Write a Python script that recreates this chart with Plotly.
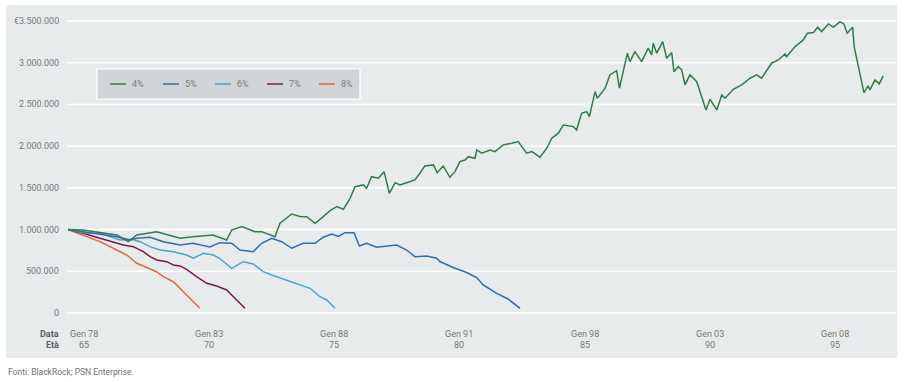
import plotly.graph_objects as go

# ---------------- data (age in years, value in euro thousands) ----------------
age_4 = [64.36, 64.97, 66.31, 66.77, 67.11, 67.90, 68.84, 69.35, 70.15, 70.70, 70.90, 71.30, 71.83, 72.10,
         72.63, 72.83, 73.30, 73.63, 73.90, 74.23, 74.56, 74.83, 75.10, 75.36, 75.63, 75.83, 76.16, 76.29,
         76.49, 76.76, 76.99, 77.20, 77.43, 77.62, 77.89, 78.22, 78.42, 78.62, 78.96, 79.11, 79.35, 79.62,
         79.82, 80.02, 80.22, 80.35, 80.62, 80.69, 80.89, 81.22, 81.42, 81.75, 82.09, 82.35, 82.49, 82.69,
         82.89, 83.22, 83.49, 83.69, 83.95, 84.15, 84.55, 84.68, 84.88, 85.08, 85.19, 85.42, 85.51, 85.82,
         86.01, 86.28, 86.39, 86.71, 86.81, 87.01, 87.28, 87.54, 87.68, 87.74, 87.88, 88.12, 88.28, 88.48,
         88.57, 88.74, 88.88, 89.01, 89.21, 89.48, 89.72, 89.85, 90.01, 90.28, 90.48, 90.61, 90.94, 91.28,
         91.61, 91.88, 92.07, 92.47, 92.74, 93.01, 93.07, 93.41, 93.58, 93.74, 93.90, 94.14, 94.31, 94.47,
         94.74, 94.94, 95.20, 95.36, 95.49, 95.71, 95.77, 95.93, 96.16, 96.33, 96.40, 96.60, 96.77, 96.93]
val_4 = [1000, 995, 935, 855, 935, 975, 896, 915, 935, 875, 995, 1035, 975, 975,
         915, 1076, 1187, 1158, 1155, 1076, 1155, 1227, 1275, 1243, 1375, 1514, 1535, 1495,
         1634, 1615, 1694, 1435, 1562, 1535, 1562, 1595, 1675, 1763, 1775, 1682, 1763, 1627,
         1694, 1814, 1834, 1874, 1855, 1954, 1915, 1954, 1934, 2014, 2035, 2054, 1994, 1915,
         1934, 1867, 1975, 2095, 2155, 2254, 2234, 2194, 2394, 2414, 2354, 2653, 2574, 2694,
         2854, 2905, 2694, 3114, 3013, 3133, 3013, 3174, 3093, 3234, 3114, 3253, 3054, 3121,
         2893, 2953, 2914, 2734, 2854, 2773, 2554, 2434, 2562, 2434, 2614, 2574, 2682, 2734,
         2814, 2854, 2814, 2994, 3033, 3105, 3073, 3193, 3234, 3273, 3354, 3361, 3426, 3373,
         3465, 3426, 3489, 3465, 3354, 3426, 3193, 2953, 2641, 2722, 2674, 2794, 2746, 2842]

age_5 = [64.36, 64.97, 66.31, 66.84, 67.11, 67.64, 68.17, 68.84, 69.35, 70.03, 70.43, 70.90, 71.23, 71.76,
         72.10, 72.50, 72.90, 73.30, 73.76, 74.23, 74.56, 74.90, 75.16, 75.43, 75.79, 76.00, 76.29, 76.69,
         77.16, 77.49, 77.89, 78.22, 78.69, 79.09, 79.22, 79.75, 80.29, 80.69, 80.95, 81.49, 81.94, 82.42]
val_5 = [1000, 975, 915, 875, 896, 908, 855, 815, 836, 791, 843, 836, 755, 735,
         836, 896, 855, 776, 836, 836, 908, 947, 917, 963, 963, 803, 836, 788,
         803, 815, 755, 675, 683, 656, 617, 545, 485, 425, 336, 236, 168, 56]

age_6 = [64.36, 64.97, 65.64, 66.44, 66.91, 67.24, 67.64, 68.04, 68.57, 69.10, 69.37, 69.77, 70.17, 70.43,
         70.90, 71.36, 71.76, 72.16, 72.50, 73.10, 73.50, 74.03, 74.43, 74.70, 75.03]
val_6 = [1000, 963, 956, 875, 884, 855, 795, 755, 735, 695, 656, 716, 695, 653,
         536, 615, 588, 495, 456, 396, 356, 296, 195, 156, 56]

age_7 = [64.36, 64.97, 65.64, 66.17, 66.57, 66.97, 67.37, 67.64, 67.90, 68.30, 68.57, 68.84, 69.10, 69.50,
         69.90, 70.30, 70.70, 71.10, 71.43]
val_7 = [1000, 956, 896, 855, 815, 795, 735, 675, 635, 615, 576, 564, 524, 435,
         356, 324, 276, 156, 56]

age_8 = [64.36, 64.97, 65.64, 66.17, 66.71, 67.11, 67.50, 67.90, 68.17, 68.57, 68.97, 69.30, 69.63]
val_8 = [1000, 935, 855, 776, 695, 596, 548, 495, 435, 375, 255, 156, 56]

series_names = ["4%", "5%", "6%", "7%", "8%"]
series_colors = ["#2f7d4a", "#2f6cb5", "#4aa6c6", "#7b1c47", "#e0683a"]

y_ticks = [0, 500000, 1000000, 1500000, 2000000, 2500000, 3000000, 3500000]
y_tick_labels = ["0", "500.000", "1.000.000", "1.500.000", "2.000.000", "2.500.000", "3.000.000", "€3.500.000"]

x_ticks = [65, 70, 75, 80, 85, 90, 95]
x_date_labels = ["Gen 78", "Gen 83", "Gen 88", "Gen 91", "Gen 98", "Gen 03", "Gen 08"]
x_age_labels = ["65", "70", "75", "80", "85", "90", "95"]


# ---------------- pixel helpers for layout only ----------------
def px2x(px):
    return 65 + (px - 84) / 25.03


def py2y(py):
    return (313 - py) * 11986


W, H = 904, 382
FONT = "Roboto, 'Liberation Sans', sans-serif"
NARROW = "'Liberation Sans Narrow', Roboto, sans-serif"
PANEL = "#e8ebec"

fig = go.Figure()

ages = [age_4, age_5, age_6, age_7, age_8]
vals = [val_4, val_5, val_6, val_7, val_8]
for i in reversed(range(5)):
    fig.add_trace(go.Scatter(
        x=ages[i], y=[v * 1000 for v in vals[i]], mode="lines", name=series_names[i],
        line=dict(color=series_colors[i], width=1.5), showlegend=False,
        hoverinfo="x+y+name"))

shapes = []
for t in y_ticks:
    shapes.append(dict(type="line", xref="x", yref="y", x0=px2x(67), x1=px2x(896), y0=t, y1=t,
                       line=dict(color="white", width=1.5), layer="below"))

annotations = []
for t, lab in zip(y_ticks, y_tick_labels):
    annotations.append(dict(x=px2x(61), y=t, xref="x", yref="y", text=lab, showarrow=False,
                            xanchor="right", yanchor="middle",
                            font=dict(family=FONT, size=9, color="#777b7e")))

for t, d, a in zip(x_ticks, x_date_labels, x_age_labels):
    annotations.append(dict(x=t, y=py2y(334), xref="x", yref="y", text=d, showarrow=False,
                            xanchor="center", yanchor="middle",
                            font=dict(family=FONT, size=9, color="#7d786f")))
    annotations.append(dict(x=t, y=py2y(345), xref="x", yref="y", text=a, showarrow=False,
                            xanchor="center", yanchor="middle",
                            font=dict(family=FONT, size=9, color="#7d786f")))

annotations.append(dict(x=px2x(61), y=py2y(334), xref="x", yref="y", text="<b>Data</b>", showarrow=False,
                        xanchor="right", yanchor="middle", font=dict(family=FONT, size=9, color="#5a5d60")))
annotations.append(dict(x=px2x(61), y=py2y(345), xref="x", yref="y", text="<b>Età</b>", showarrow=False,
                        xanchor="right", yanchor="middle", font=dict(family=FONT, size=9, color="#5a5d60")))

shapes.append(dict(type="rect", xref="x", yref="y", x0=px2x(97), x1=px2x(360), y0=py2y(99), y1=py2y(69),
                   fillcolor="#d2d5d7", line=dict(color="white", width=1.2), layer="above"))
leg_x = [110, 163, 215, 267, 319]
for i in range(5):
    lx = leg_x[i]
    shapes.append(dict(type="line", xref="x", yref="y", x0=px2x(lx), x1=px2x(lx + 16),
                       y0=py2y(84), y1=py2y(84), line=dict(color=series_colors[i], width=1.5), layer="above"))
    annotations.append(dict(x=px2x(lx + 20), y=py2y(84), xref="x", yref="y", text=series_names[i],
                            showarrow=False, xanchor="left", yanchor="middle",
                            font=dict(family=FONT, size=9, color="#7a7d80")))

annotations.append(dict(x=0, y=-(372 - 358) / (358 - 5), xref="paper", yref="paper",
                        text="Fonti: BlackRock; PSN Enterprise.",
                        showarrow=False, xanchor="left", yanchor="middle",
                        font=dict(family=NARROW, size=8.5, color="#6f7275")))

fig.update_layout(
    width=W, height=H,
    margin=dict(l=6, r=7, t=5, b=24, pad=0),
    paper_bgcolor="white", plot_bgcolor=PANEL,
    xaxis=dict(range=[px2x(6), px2x(897)], showgrid=False, zeroline=False, showticklabels=False,
               ticks="", showline=False, fixedrange=True),
    yaxis=dict(range=[py2y(358), py2y(5)], showgrid=False, zeroline=False, showticklabels=False,
               ticks="", showline=False, fixedrange=True),
    shapes=shapes, annotations=annotations, showlegend=False,
)

fig.write_html("out.html", config={"displayModeBar": False},
               post_script="document.body.style.margin='0px';document.body.style.overflow='hidden';")
